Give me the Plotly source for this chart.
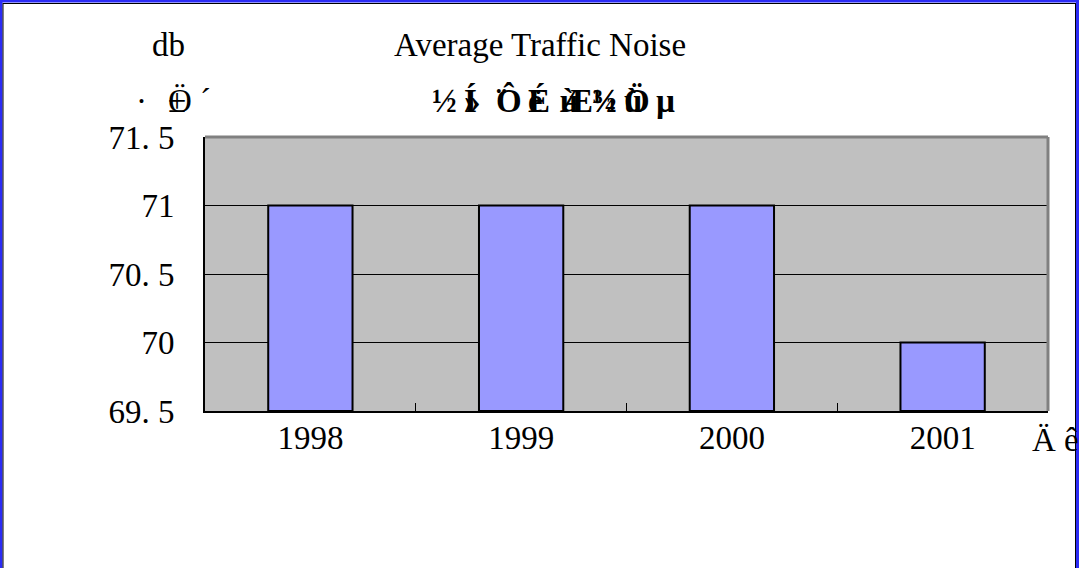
import plotly.graph_objects as go

years = ["1998", "1999", "2000", "2001"]
noise_db = [71, 71, 71, 70]
y_tick_vals = [69.5, 70, 70.5, 71, 71.5]
y_tick_text = ["69. 5", "70", "70. 5", "71", "71. 5"]
title_text = "Average Traffic Noise"
unit_text = "db"
# GBK bytes shown as Latin-1 (as in the reference): 交通噪声平均值, 分贝, 年
title2_bytes = ["½", "»", "Í", "¨", "Ô", "ë", "É", "ù", "Æ", "½", "¾", "ù", "Ö", "µ"]
unit2_bytes = ["·", "Ö", "±", "´"]
xunit_bytes = ["Ä", "ê"]

W, H = 1079, 568
L, R, T, B = 205, 1048, 137, 411
FONT = "Liberation Serif, Times New Roman, serif"
FS = 33


def px(x):
    return (x - L) / (R - L)


def py(y):
    return (B - y) / (B - T)


fig = go.Figure(
    go.Bar(
        x=years,
        y=[v - 69.5 for v in noise_db],
        base=69.5,
        marker=dict(color="#9999FF", line=dict(color="black", width=2)),
        hoverinfo="skip",
    )
)

fig.update_layout(
    width=W,
    height=H,
    margin=dict(l=L, r=W - R, t=T, b=H - B),
    paper_bgcolor="white",
    plot_bgcolor="#C0C0C0",
    bargap=0.6,
    showlegend=False,
    font=dict(family=FONT, size=FS, color="black"),
)

fig.update_yaxes(
    range=[69.5, 71.5],
    tickvals=y_tick_vals,
    ticktext=y_tick_text,
    showgrid=True,
    gridcolor="black",
    gridwidth=1,
    zeroline=False,
    showline=True,
    linecolor="black",
    linewidth=2,
    ticks="inside",
    ticklen=8,
    tickcolor="black",
    ticklabelstandoff=22,
    tickfont=dict(family=FONT, size=FS),
)
fig.update_xaxes(
    type="category",
    showgrid=False,
    showline=True,
    linecolor="black",
    linewidth=2,
    ticks="inside",
    tickson="boundaries",
    ticklen=8,
    tickcolor="black",
    ticklabelstandoff=-4,
    tickfont=dict(family=FONT, size=FS),
)

shapes = []
shapes.append(dict(type="line", xref="paper", yref="paper", x0=0, x1=1, y0=1, y1=1,
                   line=dict(color="#808080", width=3)))
shapes.append(dict(type="line", xref="paper", yref="paper", x0=1, x1=1, y0=0, y1=1,
                   line=dict(color="#808080", width=3)))
blue = "#2B2BF5"
shapes += [
    dict(type="line", xref="paper", yref="paper", x0=px(1), x1=px(1), y0=py(0), y1=py(H),
         line=dict(color=blue, width=3)),
    dict(type="line", xref="paper", yref="paper", x0=px(0), x1=px(W), y0=py(1), y1=py(1),
         line=dict(color=blue, width=3)),
    dict(type="line", xref="paper", yref="paper", x0=px(W - 1.5), x1=px(W - 1.5), y0=py(0), y1=py(H),
         line=dict(color=blue, width=3)),
    dict(type="line", xref="paper", yref="paper", x0=px(3), x1=px(3), y0=py(3), y1=py(H),
         line=dict(color="black", width=1)),
    dict(type="line", xref="paper", yref="paper", x0=px(3), x1=px(W - 3.5), y0=py(3.5), y1=py(3.5),
         line=dict(color="black", width=1)),
    dict(type="line", xref="paper", yref="paper", x0=px(W - 3.5), x1=px(W - 3.5), y0=py(3), y1=py(H),
         line=dict(color="black", width=1)),
]
fig.update_layout(shapes=shapes)

ann = []


def text_at(t, x, y, xanchor="center", bold=False):
    if bold:
        t = "<b>" + t + "</b>"
    ann.append(dict(text=t, xref="paper", yref="paper", x=px(x), y=py(y), xanchor=xanchor,
                    yanchor="middle", showarrow=False, font=dict(family=FONT, size=FS, color="black")))


text_at(unit_text, 168, 45)
text_at(title_text, 540, 45)

CELL = 32
x0 = 430
for i, ch in enumerate(title2_bytes):
    k = i // 2 + (i % 2)
    text_at(ch, x0 + k * CELL, 101, xanchor="left", bold=True)
x0 = 134
for i, ch in enumerate(unit2_bytes):
    k = i // 2 + (i % 2)
    text_at(ch, x0 + k * 32, 101, xanchor="left")
x0 = 1030
for i, ch in enumerate(xunit_bytes):
    text_at(ch, x0 + i * 32, 440, xanchor="left")

fig.update_layout(annotations=ann)

fig.write_html(
    "out.html",
    config={"displayModeBar": False},
    post_script="document.body.style.margin='0';document.body.style.overflow='hidden';",
)
